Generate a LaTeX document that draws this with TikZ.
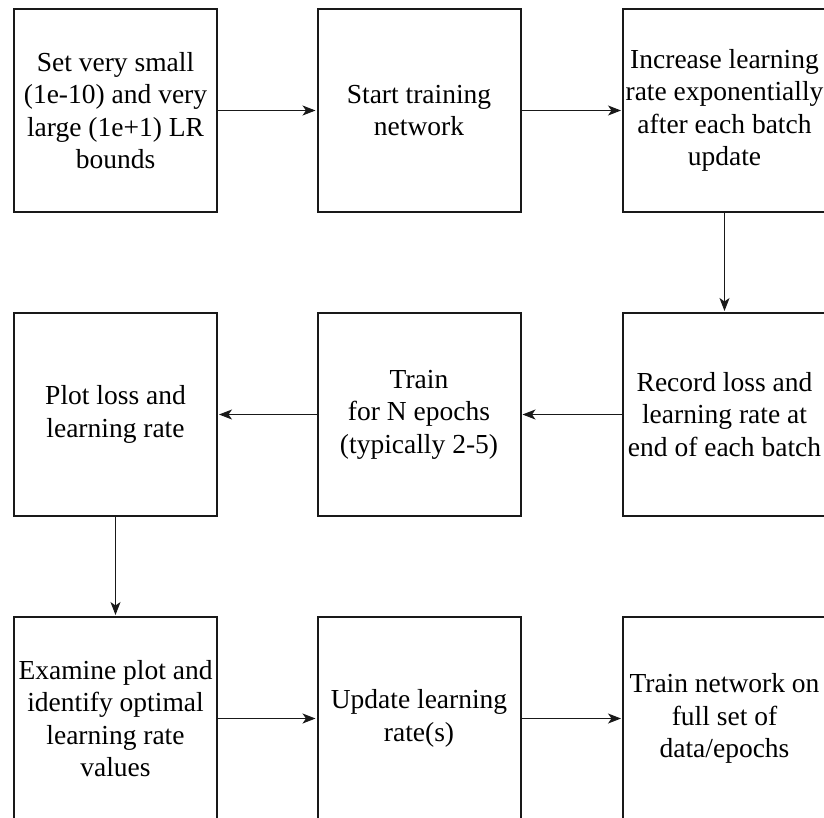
\documentclass[tikz,border=0pt]{standalone}
\usepackage{fontspec}
\setmainfont{Liberation Serif}
\usetikzlibrary{arrows.meta}
\tikzset{
  stepbox/.style={draw=black!90, line width=2pt, minimum width=203pt, minimum height=203pt,
    inner sep=0pt, align=center,
    font=\fontsize{27.5}{32.5}\selectfont},
  flow/.style={draw=black!90, line width=1pt, shorten >=1pt,
    -{Stealth[length=13pt, width=10pt, inset=3.5pt]}}
}
\begin{document}
\begin{tikzpicture}[x=1pt, y=-1pt]
  \useasboundingbox (0,0) rectangle (824,817);
  \clip (0,0) rectangle (824,817);
  % first row
  \node[stepbox] (a1) at (115.5,110.5) {Set very small\\(1e-10) and very\\large (1e+1) LR\\bounds};
  \node[stepbox] (a2) at (419,110.5) {Start training\\network};
  \node[stepbox] (a3) at (724.5,110.5) {Increase learning\\rate exponentially\\after each batch\\update};
  % second row
  \node[stepbox] (b1) at (115.5,414.5) {Plot loss and\\learning rate};
  \node[stepbox] (b2) at (419,414.5) {Train\\for N epochs\\(typically 2-5)};
  \node[stepbox] (b3) at (724.5,414.5) {Record loss and\\learning rate at\\end of each batch};
  % third row
  \node[stepbox] (c1) at (115.5,718.5) {Examine plot and\\identify optimal\\learning rate\\values};
  \node[stepbox] (c2) at (419,718.5) {Update learning\\rate(s)};
  \node[stepbox] (c3) at (724.5,718.5) {Train network on\\full set of\\data/epochs};
  % connectors
  \draw[flow] (a1) -- (a2);
  \draw[flow] (a2) -- (a3);
  \draw[flow] (a3) -- (b3);
  \draw[flow] (b3) -- (b2);
  \draw[flow] (b2) -- (b1);
  \draw[flow] (b1) -- (c1);
  \draw[flow] (c1) -- (c2);
  \draw[flow] (c2) -- (c3);
\end{tikzpicture}
\end{document}
